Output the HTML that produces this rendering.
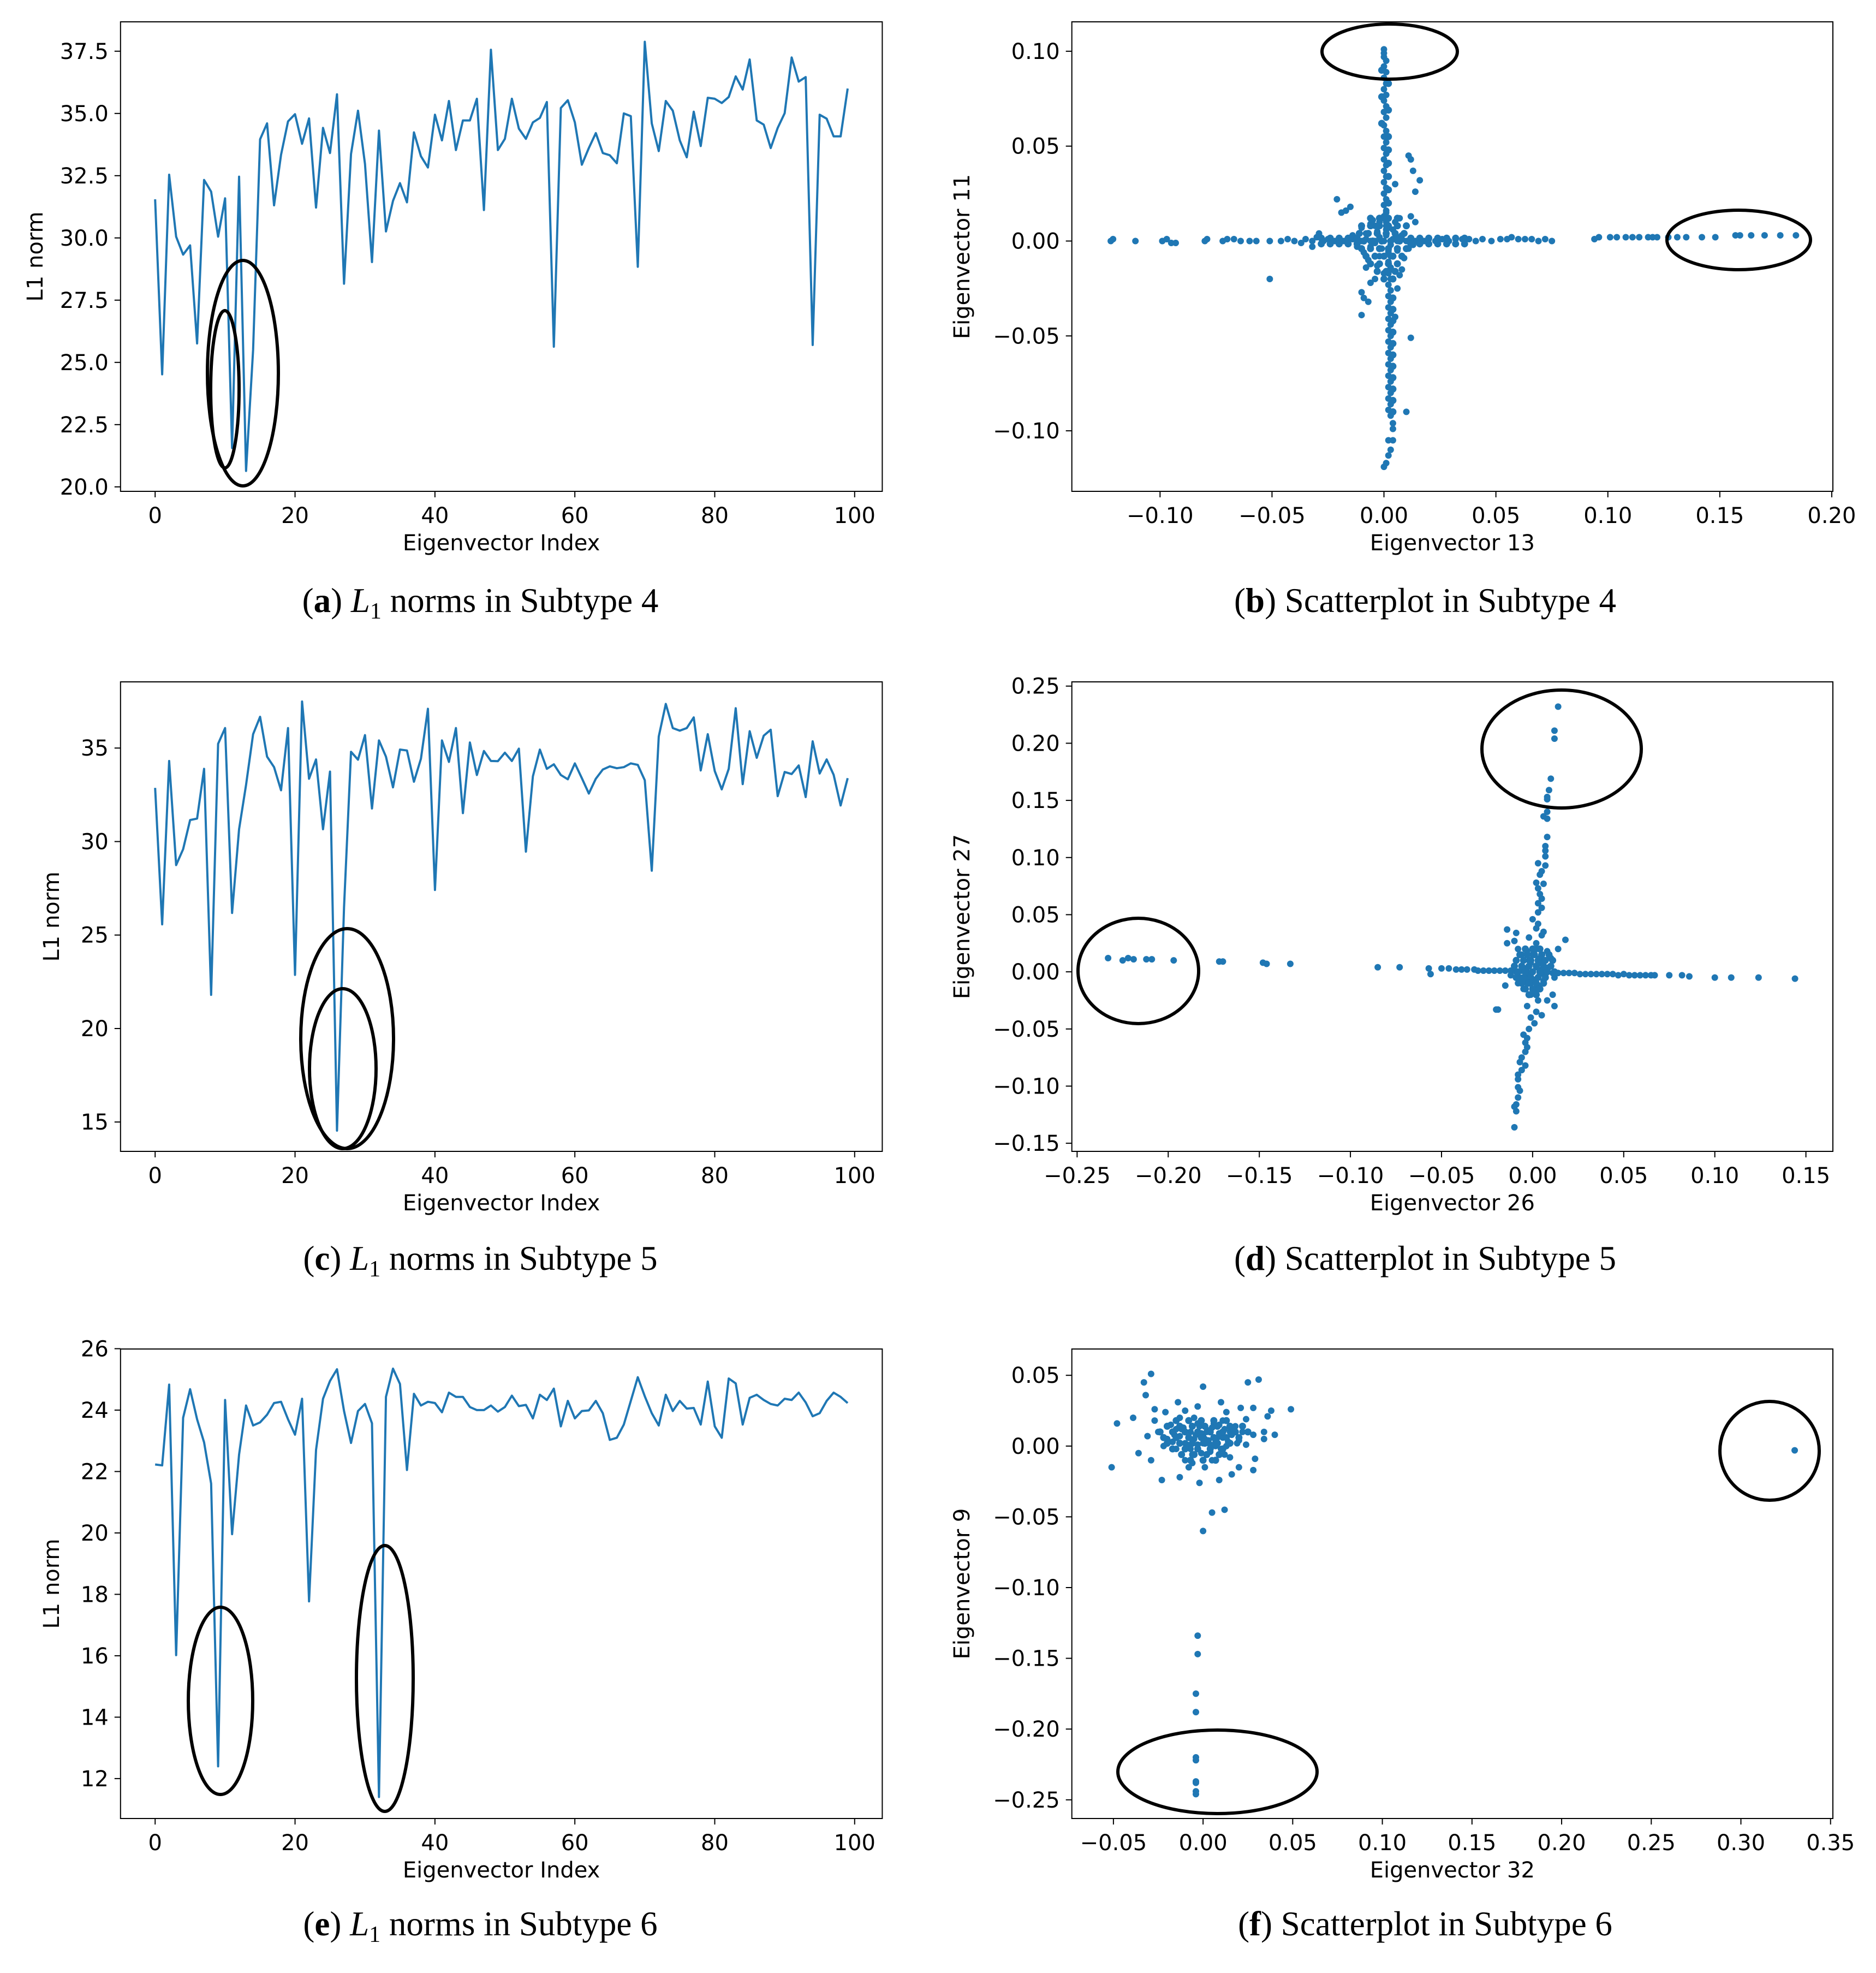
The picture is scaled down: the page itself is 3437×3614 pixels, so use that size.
<!DOCTYPE html>
<html><head><meta charset="utf-8"><style>
html,body{margin:0;padding:0;background:#fff;}
svg{display:block;}
.tk{font-family:"DejaVu Sans","Liberation Sans",sans-serif;font-size:40px;fill:#000;}
.cap{font-family:"Liberation Serif",serif;font-size:63px;fill:#000;}
</style></head><body>
<svg id="fig" xmlns="http://www.w3.org/2000/svg" width="3437" height="3614" viewBox="0 0 3437 3614">
<rect width="3437" height="3614" fill="#fff"/>
</svg>
<script>
// ---------- DATA ----------
const lineA = [31.55,24.52,32.54,30.05,29.33,29.70,25.76,32.33,31.86,30.05,31.59,21.56,32.46,20.64,25.5,33.96,34.60,31.31,33.34,34.68,34.97,33.78,34.80,31.22,34.42,33.41,35.77,28.16,33.37,35.11,32.97,29.03,34.31,30.26,31.49,32.20,31.43,34.24,33.28,32.83,34.95,33.92,35.50,33.53,34.72,34.72,35.59,31.12,37.56,33.53,33.98,35.59,34.39,33.98,34.64,34.82,35.46,25.63,35.22,35.53,34.64,32.94,33.61,34.21,33.41,33.32,33.00,35.00,34.89,28.84,37.88,34.60,33.49,35.50,35.11,33.92,33.24,35.07,33.69,35.63,35.59,35.42,35.66,36.49,35.96,37.17,34.72,34.55,33.61,34.42,35.01,37.25,36.28,36.46,25.70,34.95,34.79,34.08,34.08,36.00];
const lineC = [32.87,25.57,34.31,28.74,29.59,31.15,31.23,33.89,21.80,35.23,36.07,26.18,30.66,33.03,35.74,36.67,34.54,33.98,32.74,36.07,22.87,37.49,33.36,34.39,30.66,33.74,14.54,26.48,34.80,34.38,35.69,31.77,35.41,34.54,32.90,34.92,34.87,33.20,34.43,37.10,27.41,35.41,34.26,36.07,31.52,35.30,33.56,34.84,34.31,34.30,34.75,34.31,34.97,29.46,33.49,34.92,33.89,34.13,33.56,33.33,34.18,33.39,32.57,33.36,33.85,34.02,33.92,33.98,34.18,34.10,33.28,28.44,35.62,37.36,36.07,35.93,36.07,36.64,33.80,35.74,33.77,32.79,33.89,37.13,33.07,35.90,34.48,35.66,35.98,32.43,33.72,33.61,34.07,32.38,35.36,33.64,34.39,33.57,31.93,33.39];
const lineE = [22.23,22.20,24.83,16.02,23.75,24.68,23.70,22.95,21.61,12.40,24.33,19.96,22.55,24.15,23.50,23.60,23.85,24.23,24.27,23.70,23.20,24.37,17.77,22.70,24.37,24.95,25.33,23.97,22.93,23.97,24.20,23.57,11.40,24.43,25.35,24.85,22.05,24.53,24.15,24.27,24.23,23.93,24.57,24.43,24.43,24.10,24.00,24.00,24.15,23.95,24.10,24.47,24.13,24.17,23.73,24.50,24.33,24.70,23.47,24.30,23.73,23.97,23.99,24.30,23.90,23.03,23.10,23.53,24.30,25.07,24.45,23.90,23.50,24.50,23.97,24.30,24.05,24.07,23.53,24.93,23.47,23.10,25.03,24.87,23.53,24.40,24.50,24.33,24.20,24.15,24.37,24.33,24.57,24.25,23.80,23.90,24.30,24.57,24.43,24.23];
const ticksAv = [20,22.5,25,27.5,30,32.5,35,37.5];
const ticksCv = [15,20,25,30,35];
const ticksEv = [12,14,16,18,20,22,24,26];
const ticksIdx = [0,20,40,60,80,100];

const bX = [-0.122,-0.121,-0.111,-0.099,-0.097,-0.095,-0.093,-0.080,-0.079,-0.072,-0.070,-0.067,-0.064,-0.060,-0.057,-0.051,-0.046,-0.043,-0.040,-0.037,-0.035,-0.032,-0.030,-0.029,-0.027,-0.025,-0.022,-0.020,-0.018,-0.016,-0.014,-0.012,-0.010,-0.008,-0.006,-0.004,-0.051,-0.021,-0.019,-0.015,-0.017,-0.032,
0.006,0.008,0.010,0.012,0.014,0.016,0.018,0.020,0.023,0.026,0.029,0.032,0.035,0.038,0.041,0.044,0.048,0.052,0.055,0.057,0.060,0.063,0.066,0.069,0.072,0.075,0.094,0.096,0.101,0.104,0.108,0.111,0.114,0.118,0.120,0.122,0.127,0.131,0.135,0.142,0.148,0.157,0.159,0.164,0.170,0.177,0.184,
0,0,0,0.001,0,0.001,0,0.001,0,0.001,0,0.001,0,0.001,0,0.001,0,0.001,0,0.001,0,0.001,0,0.001,0,0.001,0,0.001,0,0.001,0,0.001,0.001,0.001,0.011,0.012,0.013,0.016,0.014,0.005,
0.002,0.003,0.002,0.003,0.002,0.003,0.002,0.003,0.002,0.003,0.002,0.003,0.002,0.003,0.002,0.003,0.002,0.003,0.002,0.003,0.002,0.003,0.002,0.003,0.002,0.003,0.002,0.003,0.002,0.003,0.004,0.004,0.002,0.004,0.003,0.002,0.001,0.000,-0.010,-0.009,-0.007,-0.010,0.012,0.010,0.005,0.006,0.008,-0.004,-0.006,
-0.008,-0.006,-0.004,-0.002,0,0.002,0.004,0.006,0.008,-0.009,0.009,-0.005,0.005,0.003,-0.003,0.010,-0.010,0.007,-0.007,0,0.001,-0.001,0.002,-0.002,0.003,-0.003,0.012,0.014,-0.012,0.011,0.001,0.000,0.004,0.007,-0.008,0.013,-0.014,-0.004,0.004,0.006,-0.006,0.002,-0.002];
const bY = [0,0.001,0,0,0.001,-0.001,-0.001,0,0.001,0,0.001,0.001,0,0,0,0,0,0.001,0,-0.001,0.001,0,0.002,0.004,0,0.001,0,0.001,0,0,0.001,0,0,0.001,0,0,-0.020,0.022,0.015,0.018,0.016,-0.003,
0,0.001,0,0,0,0,0,0.001,0,0.001,0,0.001,0.001,0.001,0,0.001,0,0.001,0.001,0.002,0.001,0.001,0.001,0,0.001,0,0.001,0.002,0.002,0.002,0.002,0.002,0.002,0.002,0.002,0.002,0.002,0.002,0.002,0.002,0.002,0.003,0.003,0.003,0.003,0.003,0.003,
0.101,0.099,0.097,0.095,0.092,0.089,0.086,0.083,0.080,0.077,0.074,0.071,0.068,0.065,0.061,0.058,0.055,0.052,0.049,0.046,0.043,0.040,0.037,0.034,0.031,0.028,0.025,0.022,0.019,0.016,0.013,0.010,0.008,0.006,0.045,0.043,0.037,0.032,0.026,0.030,
-0.005,-0.008,-0.011,-0.014,-0.017,-0.020,-0.023,-0.026,-0.029,-0.032,-0.035,-0.038,-0.041,-0.044,-0.047,-0.050,-0.053,-0.056,-0.059,-0.062,-0.065,-0.068,-0.071,-0.074,-0.077,-0.080,-0.083,-0.086,-0.089,-0.092,-0.096,-0.099,-0.105,-0.105,-0.110,-0.113,-0.117,-0.119,-0.027,-0.030,-0.032,-0.039,-0.051,-0.090,-0.040,-0.025,-0.015,-0.020,-0.022,
0.004,-0.003,0.008,-0.008,0.012,-0.012,0.006,-0.005,0.003,-0.006,-0.009,0.011,0.010,-0.015,-0.013,0.008,0.007,0.012,-0.010,0,0.003,-0.004,0.007,0.002,-0.002,0.005,0.013,0.010,-0.003,-0.004,0.015,-0.017,-0.020,-0.018,-0.014,-0.002,0.003,-0.001,0.001,0.002,0.009,-0.006,0.010];
const bCore = [[-0.006,0.012],[-0.002,0.012],[0.002,0.012],[0.006,0.012],
[-0.010,0.008],[-0.006,0.008],[-0.002,0.008],[0.002,0.008],[0.006,0.008],[0.010,0.008],
[-0.011,0.004],[-0.007,0.004],[-0.003,0.004],[0.001,0.004],[0.005,0.004],[0.009,0.004],
[-0.009,0.000],[-0.005,0.000],[-0.001,0.000],[0.003,0.000],[0.007,0.000],[0.011,0.000],
[-0.010,-0.004],[-0.006,-0.004],[-0.002,-0.004],[0.002,-0.004],[0.006,-0.004],[0.010,-0.004],
[-0.008,-0.008],[-0.004,-0.008],[0.000,-0.008],[0.004,-0.008],[0.008,-0.008],
[-0.006,-0.012],[-0.002,-0.012],[0.002,-0.012],[0.006,-0.012],[-0.003,-0.016],[0.001,-0.016],[0.005,-0.016],[0.000,-0.020],[0.004,-0.020],
[-0.028,0.0015],[-0.024,0.0015],[-0.020,0.0015],[-0.016,0.0015],[-0.012,0.0015],[0.012,0.0015],[0.016,0.0015],[0.020,0.0015],[0.024,0.0015],[0.028,0.0015],[0.032,0.0015],[0.036,0.0015],
[-0.028,-0.0015],[-0.024,-0.0015],[-0.020,-0.0015],[-0.016,-0.0015],[-0.012,-0.0015],[0.012,-0.0015],[0.016,-0.0015],[0.020,-0.0015],[0.024,-0.0015],[0.028,-0.0015],[0.032,-0.0015],[0.036,-0.0015],
[0.004,-0.030],[0.004,-0.036],[0.004,-0.042],[0.004,-0.048],[0.004,-0.054],[0.004,-0.060],[0.004,-0.066],[0.004,-0.072],[0.004,-0.078],[0.004,-0.084],[0.004,-0.090],
[0.002,0.020],[0.002,0.027],[0.002,0.034],[0.002,0.041],[0.002,0.048],[0.002,0.055],[-0.001,0.062],[0.002,0.069],[-0.001,0.076],[0.002,0.083],[-0.001,0.090]];

const dX = [-0.233,-0.225,-0.222,-0.219,-0.212,-0.209,-0.197,-0.172,-0.170,-0.148,-0.146,-0.133,-0.085,-0.073,-0.057,-0.056,-0.050,-0.046,-0.042,-0.039,-0.036,-0.032,-0.030,-0.027,-0.024,-0.021,-0.018,-0.015,-0.012,-0.009,-0.006,-0.003,
0.005,0.008,0.011,0.014,0.017,0.020,0.023,0.026,0.029,0.032,0.035,0.038,0.041,0.044,0.047,0.050,0.053,0.056,0.059,0.062,0.065,0.067,0.075,0.082,0.086,0.100,0.109,0.124,0.144,
0.014,0.012,0.012,0.010,0.009,0.008,0.008,0.008,0.006,0.008,0.008,0.007,0.007,0.007,0.003,0.007,0.005,0.004,0.002,0.006,0.003,0.004,0.005,0.003,0.005,0.003,0,0.003,0.002,-0.014,0.006,-0.009,0.018,-0.014,-0.010,-0.002,0.005,0.014,-0.008,0.002,
-0.001,0.002,-0.001,0.003,-0.003,0.002,-0.001,0.001,-0.002,-0.005,-0.003,-0.004,-0.003,-0.004,-0.006,-0.007,-0.004,-0.006,-0.008,-0.008,-0.008,-0.007,-0.008,-0.009,-0.010,-0.009,-0.010,-0.020,-0.019,0.005,0.012,0.008,-0.015,0.011,
-0.010,-0.007,-0.005,-0.003,0,0.003,0.005,0.007,0.009,0,0.002,-0.002,0.004,-0.004,0.006,-0.008,0.010,-0.006,0.001,0.012,-0.012,0.002,-0.001,0.004,0.008,-0.003,-0.005,0.005,0.003,-0.002,0.001,-0.004];
const dY = [0.012,0.010,0.012,0.011,0.011,0.011,0.010,0.009,0.009,0.008,0.007,0.007,0.004,0.004,0.003,-0.002,0.003,0.003,0.002,0.002,0.002,0.002,0.001,0.001,0.001,0.001,0.001,0.001,0.001,0,0.001,0,
-0.001,0,-0.001,-0.001,-0.001,-0.001,-0.001,-0.002,-0.002,-0.002,-0.002,-0.002,-0.002,-0.002,-0.003,-0.002,-0.003,-0.003,-0.003,-0.003,-0.003,-0.003,-0.003,-0.003,-0.004,-0.005,-0.005,-0.005,-0.006,
0.232,0.211,0.204,0.169,0.159,0.153,0.151,0.140,0.136,0.134,0.118,0.110,0.106,0.101,0.095,0.093,0.088,0.085,0.078,0.077,0.073,0.068,0.064,0.060,0.056,0.052,0.046,0.042,0.038,0.037,0.035,0.034,0.028,0.025,0.027,0.030,0.032,0.020,0.020,0.025,
-0.010,-0.015,-0.020,-0.025,-0.030,-0.035,-0.040,-0.045,-0.050,-0.055,-0.058,-0.062,-0.066,-0.070,-0.075,-0.079,-0.082,-0.086,-0.090,-0.094,-0.101,-0.104,-0.110,-0.116,-0.118,-0.122,-0.136,-0.033,-0.033,-0.038,-0.030,-0.025,-0.012,-0.020,
0.005,-0.005,0.010,-0.010,0.015,-0.012,0.008,-0.004,0.004,0,0.004,-0.003,0.012,0.003,-0.008,-0.010,0.012,0.015,-0.018,-0.005,-0.003,0.020,0.008,-0.002,0.018,0.018,-0.015,0.002,0.007,0.010,-0.007,-0.006];
const dCore = [[-0.004,0.020],[0.000,0.020],[0.004,0.020],
[-0.007,0.015],[-0.003,0.015],[0.001,0.015],[0.005,0.015],[0.009,0.015],
[-0.009,0.010],[-0.005,0.010],[-0.001,0.010],[0.003,0.010],[0.007,0.010],[0.011,0.010],
[-0.010,0.005],[-0.006,0.005],[-0.002,0.005],[0.002,0.005],[0.006,0.005],[0.010,0.005],
[-0.008,0.000],[-0.004,0.000],[0.000,0.000],[0.004,0.000],[0.008,0.000],[0.012,0.000],
[-0.009,-0.005],[-0.005,-0.005],[-0.001,-0.005],[0.003,-0.005],[0.007,-0.005],
[-0.006,-0.010],[-0.002,-0.010],[0.002,-0.010],[0.006,-0.010],
[-0.004,-0.015],[0.000,-0.015],[0.004,-0.015],[-0.002,-0.020],[0.002,-0.020]];

const fX = [-0.029,-0.033,-0.032,0.000,0.025,0.031,-0.014,0.010,-0.048,-0.039,-0.027,0.049,0.021,0.028,0.038,0.036,-0.021,-0.010,-0.003,0.013,0.024,-0.031,0.040,0.034,0.034,0.028,-0.051,-0.036,-0.029,-0.023,-0.013,-0.002,0.009,0.016,0.028,0.029,0.020,-0.008,0.005,0.012,0.000,-0.003,-0.003,-0.004,-0.004,-0.004,-0.004,-0.004,-0.004,-0.004,-0.004,0.330,
-0.025,-0.020,-0.018,-0.015,-0.012,-0.010,-0.008,-0.006,-0.004,-0.002,0,0.002,0.004,0.006,0.008,0.010,0.012,0.014,0.016,0.018,0.020,-0.016,-0.005,0.005,-0.010,0.000,0.003,-0.003,-0.007,0.007,0.011,-0.013,0.015,0.022,-0.022,0.001,0.024,-0.027,
-0.017,-0.013,-0.009,-0.005,-0.001,0.003,0.007,0.011,0.015,0.019,-0.011,-0.007,-0.003,0.001,0.005,0.009,0.013,0.017,-0.015,-0.001,0.004,0.009,-0.006,0.012];
const fY = [0.051,0.045,0.036,0.042,0.045,0.047,0.031,0.031,0.016,0.020,0.026,0.026,0.027,0.027,0.025,0.021,0.024,0.025,0.028,0.024,0.019,0.007,0.008,0.010,0.005,0.008,-0.015,-0.005,-0.010,-0.024,-0.022,-0.026,-0.024,-0.020,-0.017,-0.009,-0.015,-0.015,-0.047,-0.045,-0.060,-0.134,-0.147,-0.175,-0.188,-0.220,-0.222,-0.237,-0.238,-0.244,-0.246,-0.003,
0.010,0.005,0.015,-0.002,0.012,0.002,0.018,-0.006,0.008,0.014,0.002,0.010,-0.004,0.016,0.006,-0.002,0.012,0.003,0.008,0.014,0.004,0.008,0.020,-0.010,-0.010,0.007,0.004,0.001,0.010,0.000,0.018,0.020,-0.008,0.010,0.000,-0.015,0.001,0.018,
0.003,0.007,0.001,0.005,0.009,0.011,0.003,0.006,0.010,0.002,0.013,-0.002,0.016,0.005,0.013,0.009,0.000,0.011,0.012,-0.005,0.001,0.015,-0.012,-0.006];
const fCore = [[-0.015,0.018],[-0.008,0.018],[-0.001,0.018],[0.006,0.018],[0.013,0.018],
[-0.020,0.014],[-0.013,0.014],[-0.006,0.014],[0.001,0.014],[0.008,0.014],[0.015,0.014],[0.022,0.014],
[-0.024,0.010],[-0.017,0.010],[-0.010,0.010],[-0.003,0.010],[0.004,0.010],[0.011,0.010],[0.018,0.010],[0.025,0.010],
[-0.022,0.006],[-0.015,0.006],[-0.008,0.006],[-0.001,0.006],[0.006,0.006],[0.013,0.006],[0.020,0.006],
[-0.020,0.002],[-0.013,0.002],[-0.006,0.002],[0.001,0.002],[0.008,0.002],[0.015,0.002],
[-0.017,-0.002],[-0.010,-0.002],[-0.003,-0.002],[0.004,-0.002],[0.011,-0.002],
[-0.012,-0.006],[-0.005,-0.006],[0.002,-0.006],[0.009,-0.006],[-0.007,-0.010],[0.000,-0.010],[0.007,-0.010]];
const bTicksX=[-0.10,-0.05,0.00,0.05,0.10,0.15,0.20], bTicksY=[-0.10,-0.05,0.00,0.05,0.10];
const dTicksX=[-0.25,-0.20,-0.15,-0.10,-0.05,0.00,0.05,0.10,0.15], dTicksY=[-0.15,-0.10,-0.05,0.00,0.05,0.10,0.15,0.20,0.25];
const fTicksX=[-0.05,0.00,0.05,0.10,0.15,0.20,0.25,0.30,0.35], fTicksY=[-0.25,-0.20,-0.15,-0.10,-0.05,0.00,0.05];

// ---------- DRAW ----------
const NS="http://www.w3.org/2000/svg";
const svg=document.getElementById('fig');
function mk(tag,attrs,parent){const e=document.createElementNS(NS,tag);for(const k in attrs)e.setAttribute(k,attrs[k]);(parent||svg).appendChild(e);return e;}
function fmt(v,d){const s=Math.abs(v).toFixed(d);return (v<-1e-9?'\u2212':'')+s;}

function panel(p){
  const g=mk('g',{});
  
  
  const sx=v=>p.L+(v-p.x0)/(p.x1-p.x0)*(p.R-p.L);
  const sy=v=>p.B-(v-p.y0)/(p.y1-p.y0)*(p.B-p.T);
  p.xt.forEach(v=>{
    const x=sx(v);
    const t=mk('line',{x1:x,x2:x,y1:p.B,y2:p.B+11,stroke:'#000','stroke-width':2},g);
    
    const l=mk('text',{x:x,y:p.B+58,'text-anchor':'middle',class:'tk'},g);
    l.textContent=p.xd===0?String(v):fmt(v,p.xd);
    
  });
  p.yt.forEach(v=>{
    const y=sy(v);
    const t=mk('line',{x1:p.L-11,x2:p.L,y1:y,y2:y,stroke:'#000','stroke-width':2},g);
    
    const l=mk('text',{x:p.L-22,y:y+14,'text-anchor':'end',class:'tk'},g);
    l.textContent=p.yd===0?String(v):fmt(v,p.yd);
    
  });
  if(p.line){
    const pts=p.line.map((v,i)=>sx(i).toFixed(1)+','+sy(v).toFixed(1)).join(' ');
    const pl=mk('polyline',{points:pts,fill:'none',stroke:'#1f77b4','stroke-width':4,'stroke-linejoin':'round'},g);
    
  } else {
    p.px.forEach((v,i)=>{
      const c=mk('circle',{cx:sx(v),cy:sy(p.py[i]),r:6,fill:'#1f77b4'},g);
      
    });
    p.core.forEach(pt=>{
      const c=mk('circle',{cx:sx(pt[0]),cy:sy(pt[1]),r:6.5,fill:'#1f77b4'},g);
      
    });
  }
  p.ell.forEach(e=>{
    const el=mk('ellipse',{cx:(e[0]+e[1])/2,cy:(e[2]+e[3])/2,rx:(e[1]-e[0])/2,ry:(e[3]-e[2])/2,fill:'none',stroke:'#000','stroke-width':6},g);
    
  });
  const fr=mk('rect',{x:p.L,y:p.T,width:p.R-p.L,height:p.B-p.T,fill:'none',stroke:'#000','stroke-width':2},g);
  
  const xl=mk('text',{x:(p.L+p.R)/2,y:p.B+108,'text-anchor':'middle',class:'tk'},g);
  xl.textContent=p.xlab;
  const cy=(p.T+p.B)/2;
  const yl=mk('text',{x:p.ylx,y:cy,'text-anchor':'middle',class:'tk',transform:'rotate(-90 '+p.ylx+' '+cy+')'},g);
  yl.textContent=p.ylab;
  const cap=mk('text',{x:p.capx,y:p.capy,'text-anchor':'middle',class:'cap'},g);
  
  cap.innerHTML='('+'<tspan font-weight="bold">'+p.letter+'</tspan>) '+p.cap;
}
const L1='<tspan font-style="italic">L</tspan><tspan font-size="42" dy="12">1</tspan><tspan dy="-12"> norms in Subtype ';
const LX={L:220.8,R:1616.4,x0:-4.95,x1:103.95,xt:ticksIdx,xd:0,xlab:'Eigenvector Index',ylab:'L1 norm',capx:880};
panel(Object.assign({},LX,{name:'panel-a-l1-norms-subtype-4',T:40,B:900,y0:19.82,y1:38.68,yt:ticksAv,yd:1,line:lineA,ylx:78,letter:'a',cap:L1+'4</tspan>',capy:1121,
  ell:[[380,510,477,890],[386,438,569,857]]}));
panel(Object.assign({},LX,{name:'panel-c-l1-norms-subtype-5',T:1249,B:2109,y0:13.43,y1:38.54,yt:ticksCv,yd:0,line:lineC,ylx:108,letter:'c',cap:L1+'5</tspan>',capy:2326,
  ell:[[551,721,1701,2104],[567,689,1811,2104]]}));
panel(Object.assign({},LX,{name:'panel-e-l1-norms-subtype-6',T:2471,B:3331,y0:10.70,y1:25.99,yt:ticksEv,yd:0,line:lineE,ylx:108,letter:'e',cap:L1+'6</tspan>',capy:3545,
  ell:[[345,463,2944,3287],[653,757,2831,3318]]}));
const RX={L:1963.7,R:3358,xd:2,yd:2,ylx:1776,capx:2611};
panel(Object.assign({},RX,{name:'panel-b-scatter-subtype-4',T:40,B:900,x0:-0.1394,x1:0.2005,y0:-0.1319,y1:0.1155,xt:bTicksX,yt:bTicksY,px:bX,py:bY,core:bCore,xlab:'Eigenvector 13',ylab:'Eigenvector 11',letter:'b',cap:'Scatterplot in Subtype 4',capy:1121,
  ell:[[2422,2670,44,145],[3054,3317,385,494]]}));
panel(Object.assign({},RX,{name:'panel-d-scatter-subtype-5',T:1249,B:2109,x0:-0.2529,x1:0.1648,y0:-0.1571,y1:0.2537,xt:dTicksX,yt:dTicksY,px:dX,py:dY,core:dCore,xlab:'Eigenvector 26',ylab:'Eigenvector 27',letter:'d',cap:'Scatterplot in Subtype 5',capy:2326,
  ell:[[2715,3007,1264,1480],[1975,2196,1682,1875]]}));
panel(Object.assign({},RX,{name:'panel-f-scatter-subtype-6',T:2471,B:3331,x0:-0.0732,x1:0.3513,y0:-0.2632,y1:0.0686,xt:fTicksX,yt:fTicksY,px:fX,py:fY,core:fCore,xlab:'Eigenvector 32',ylab:'Eigenvector 9',letter:'f',cap:'Scatterplot in Subtype 6',capy:3545,
  ell:[[3151,3333,2567,2748],[2048,2413,3169,3322]]}));
</script>
</body></html>
